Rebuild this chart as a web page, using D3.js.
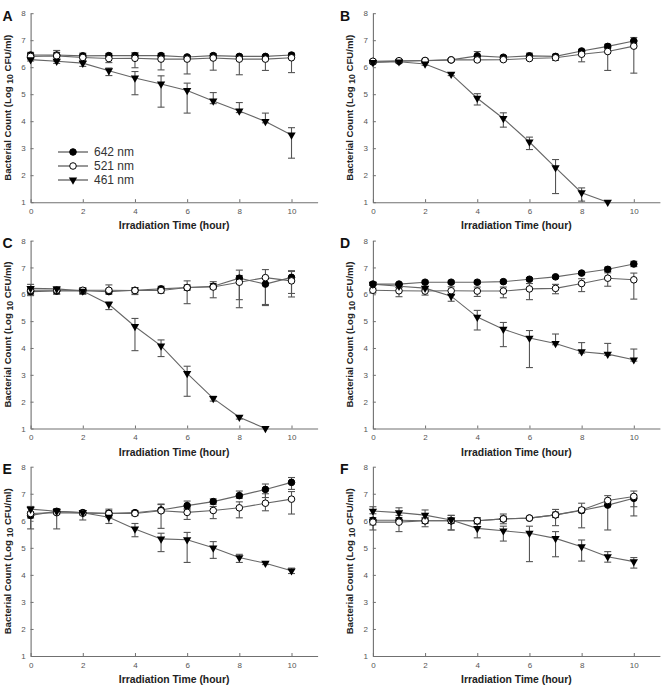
<!DOCTYPE html>
<html lang="en">
<head>
<meta charset="utf-8">
<title>Bacterial count vs irradiation time</title>
<script src="https://d3js.org/d3.v7.min.js"></script>
<style>
  body { margin: 0; background: #fff; }
  svg { display: block; font-family: "Liberation Sans", Arial, sans-serif; }
</style>
</head>
<body>
<script>
// ---- data ----
var hours = [0, 1, 2, 3, 4, 5, 6, 7, 8, 9, 10];
var xTicks = [0, 2, 4, 6, 8, 10];
var yTicks = [1, 2, 3, 4, 5, 6, 7, 8];
var panelLabels = ["A", "B", "C", "D", "E", "F"];
var seriesNames = ["642 nm", "521 nm", "461 nm"];

// each error entry is [up, down]
var A_642 = [6.45, 6.45, 6.42, 6.43, 6.43, 6.43, 6.38, 6.43, 6.40, 6.40, 6.45];
var A_642_err = [[.1,.1],[.1,.1],[.1,.1],[.08,.08],[.1,.1],[.08,.08],[.05,.05],[.07,.07],[.05,.05],[.05,.05],[.07,.07]];
var A_521 = [6.40, 6.42, 6.36, 6.32, 6.33, 6.30, 6.30, 6.34, 6.30, 6.30, 6.35];
var A_521_err = [[.1,.1],[.2,.2],[.12,.15],[.1,.15],[.2,.35],[.1,.4],[.1,.55],[.1,.45],[.1,.58],[.1,.42],[.12,.55]];
var A_461 = [6.28, 6.22, 6.15, 5.87, 5.60, 5.38, 5.14, 4.75, 4.38, 3.99, 3.49];
var A_461_err = [[.05,.05],[.05,.08],[.1,.12],[.1,.18],[.24,.62],[.3,.86],[.27,.84],[.31,.1],[.31,.06],[.31,.05],[.27,.86]];

var B_642 = [6.19, 6.22, 6.24, 6.27, 6.42, 6.37, 6.42, 6.40, 6.60, 6.77, 6.97];
var B_642_err = [[.05,.05],[.05,.05],[.05,.05],[.05,.05],[.16,.1],[.06,.06],[.1,.05],[.08,.08],[.06,.06],[.08,.08],[.13,.1]];
var B_521 = [6.22, 6.24, 6.25, 6.27, 6.27, 6.28, 6.32, 6.35, 6.48, 6.58, 6.78];
var B_521_err = [[.05,.05],[.05,.05],[.05,.05],[.05,.05],[.05,.05],[.05,.05],[.05,.05],[.08,.1],[.1,.28],[.15,.7],[.2,1.0]];
var B_461 = [6.18, 6.20, 6.12, 5.74, 4.85, 4.10, 3.23, 2.28, 1.35, 1.0, null];
var B_461_err = [[.05,.05],[.05,.05],[.05,.05],[.05,.05],[.17,.25],[.21,.32],[.18,.28],[.3,.96],[.18,.31],[0,0],null];

var C_642 = [6.10, 6.12, 6.13, 6.10, 6.15, 6.20, 6.25, 6.30, 6.60, 6.38, 6.63];
var C_642_err = [[.1,.1],[.1,.1],[.1,.1],[.1,.1],[.1,.1],[.1,.1],[.1,.1],[.1,.1],[.3,.8],[.2,.8],[.25,.6]];
var C_521 = [6.15, 6.15, 6.15, 6.15, 6.14, 6.14, 6.25, 6.27, 6.45, 6.62, 6.50];
var C_521_err = [[.1,.2],[.08,.15],[.1,.15],[.2,.1],[.1,.15],[.1,.1],[.25,.6],[.2,.4],[.25,.95],[.3,1.0],[.35,.6]];
var C_461 = [6.22, 6.20, 6.12, 5.63, 4.80, 4.08, 3.05, 2.12, 1.42, 1.0, null];
var C_461_err = [[.15,.1],[.08,.1],[.1,.1],[.08,.2],[.3,.9],[.22,.4],[.27,.85],[.08,.1],[.05,.07],[0,0],null];

var D_642 = [6.38, 6.38, 6.45, 6.45, 6.45, 6.47, 6.56, 6.65, 6.79, 6.93, 7.13];
var D_642_err = [[.05,.05],[.05,.05],[.05,.05],[.05,.05],[.05,.05],[.05,.05],[.06,.06],[.05,.05],[.05,.05],[.08,.08],[.1,.1]];
var D_521 = [6.15, 6.13, 6.12, 6.13, 6.12, 6.12, 6.20, 6.22, 6.40, 6.60, 6.54];
var D_521_err = [[.08,.1],[.12,.22],[.1,.15],[.15,.15],[.15,.2],[.15,.25],[.2,.4],[.15,.2],[.18,.3],[.2,.3],[.25,.72]];
var D_461 = [6.38, 6.30, 6.23, 5.93, 5.15, 4.70, 4.37, 4.17, 3.86, 3.77, 3.56];
var D_461_err = [[.05,.05],[.05,.05],[.05,.05],[.05,.19],[.25,.48],[.25,.65],[.28,1.1],[.35,.05],[.34,.05],[.4,.05],[.4,.05]];

var E_642 = [6.20, 6.35, 6.30, 6.28, 6.30, 6.40, 6.56, 6.71, 6.93, 7.16, 7.42];
var E_642_err = [[.3,.1],[.1,.1],[.08,.08],[.15,.1],[.08,.08],[.2,.1],[.17,.1],[.1,.1],[.17,.1],[.2,.3],[.18,.26]];
var E_521 = [6.27, 6.30, 6.28, 6.27, 6.27, 6.37, 6.31, 6.38, 6.48, 6.65, 6.80];
var E_521_err = [[.25,.57],[.1,.6],[.1,.25],[.1,.15],[.08,.08],[.25,.65],[.1,.26],[.15,.3],[.22,.37],[.35,.28],[.28,.55]];
var E_461 = [6.43, 6.35, 6.30, 6.13, 5.70, 5.33, 5.30, 5.00, 4.64, 4.43, 4.15];
var E_461_err = [[.1,.1],[.1,.1],[.08,.08],[.1,.23],[.2,.29],[.21,.47],[.27,.84],[.23,.39],[.12,.18],[.05,.05],[.1,.1]];

var F_642 = [6.02, 6.02, 6.00, 6.00, 6.00, 6.07, 6.10, 6.22, 6.38, 6.58, 6.83];
var F_642_err = [[.1,.36],[.1,.1],[.1,.1],[.2,.34],[.1,.1],[.1,.1],[.05,.05],[.1,.1],[.1,.64],[.1,.92],[.12,.65]];
var F_521 = [5.95, 5.95, 6.00, 6.00, 6.00, 6.07, 6.10, 6.22, 6.40, 6.75, 6.90];
var F_521_err = [[.1,.1],[.1,.35],[.1,.22],[.1,.1],[.12,.12],[.18,.18],[.05,.05],[.2,.4],[.25,.1],[.18,.15],[.2,.38]];
var F_461 = [6.36, 6.30, 6.21, 6.03, 5.72, 5.63, 5.54, 5.35, 5.04, 4.67, 4.49];
var F_461_err = [[.16,.1],[.18,.1],[.19,.1],[.17,.37],[.22,.35],[.17,.38],[.26,1.05],[.25,.68],[.25,.53],[.19,.2],[.15,.24]];

var panelData = [
  [[A_642, A_642_err], [A_521, A_521_err], [A_461, A_461_err]],
  [[B_642, B_642_err], [B_521, B_521_err], [B_461, B_461_err]],
  [[C_642, C_642_err], [C_521, C_521_err], [C_461, C_461_err]],
  [[D_642, D_642_err], [D_521, D_521_err], [D_461, D_461_err]],
  [[E_642, E_642_err], [E_521, E_521_err], [E_461, E_461_err]],
  [[F_642, F_642_err], [F_521, F_521_err], [F_461, F_461_err]]
];

// ---- layout ----
var W = 666, H = 689;
var colX = [[30.6, 317.6], [372.9, 659.9]];   // pixel range for hours 0..11
var rowY = [[202.2, 13.2], [428.5, 240.6], [656, 466.7]]; // pixel range for log 1..8
var markerTypes = ["filled", "open", "tri"];

var svg = d3.select("body").append("svg")
  .attr("width", W)
  .attr("height", H);

panelData.forEach(function(series, p) {
  var col = p % 2, row = Math.floor(p / 2);
  var x = d3.scaleLinear().domain([0, 11]).range(colX[col]);
  var y = d3.scaleLinear().domain([1, 8]).range(rowY[row]);
  var g = svg.append("g");
  var x0 = x(0), yb = y(1);

  // axes
  var xa = g.append("g")
    .attr("transform", "translate(0," + yb + ")")
    .call(d3.axisBottom(x).tickValues(xTicks).tickFormat(d3.format("d"))
      .tickSizeInner(-3).tickSizeOuter(0).tickPadding(6));
  var ya = g.append("g")
    .attr("transform", "translate(" + x0 + ",0)")
    .call(d3.axisLeft(y).tickValues(yTicks).tickFormat(d3.format("d"))
      .tickSizeInner(-3).tickSizeOuter(0).tickPadding(5));
  [xa, ya].forEach(function(a) {
    a.select(".domain").attr("stroke", "#707070").attr("stroke-width", 1.1);
    a.selectAll(".tick line").attr("stroke", "#707070");
    a.selectAll(".tick text").attr("fill", "#555").style("font-size", "8px")
      .style("font-family", "'Liberation Sans', Arial, sans-serif");
  });

  // axis titles
  g.append("text")
    .attr("x", (colX[col][0] + colX[col][1]) / 2)
    .attr("y", yb + 27)
    .attr("text-anchor", "middle")
    .attr("fill", "#222")
    .style("font-size", "10.4px")
    .style("font-weight", "bold")
    .text("Irradiation Time (hour)");

  var yt = g.append("text")
    .attr("transform", "translate(" + (x0 - 20) + "," + ((rowY[row][0] + rowY[row][1]) / 2) + ") rotate(-90)")
    .attr("text-anchor", "middle")
    .attr("fill", "#222")
    .style("font-size", "9.6px")
    .style("font-weight", "bold");
  yt.append("tspan").text("Bacterial Count (Log ");
  yt.append("tspan").attr("dy", 2.5).style("font-size", "8.6px").text("10");
  yt.append("tspan").attr("dy", -2.5).text(" CFU/ml)");

  // panel letter
  g.append("text")
    .attr("x", col === 0 ? 2.5 : 340)
    .attr("y", rowY[row][1] + 7.6)
    .attr("fill", "#111")
    .style("font-size", "14px")
    .style("font-weight", "bold")
    .text(panelLabels[p]);

  var line = d3.line()
    .defined(function(d) { return d.v != null; })
    .x(function(d) { return x(d.h); })
    .y(function(d) { return y(d.v); });

  var pts = series.map(function(s) {
    return hours.map(function(h, i) { return { h: h, v: s[0][i], e: s[1][i] }; })
      .filter(function(d) { return d.v != null; });
  });

  // connecting lines
  pts.forEach(function(d) {
    g.append("path").datum(d)
      .attr("d", line)
      .attr("fill", "none")
      .attr("stroke", "#666")
      .attr("stroke-width", 1.1);
  });

  // error bars
  pts.forEach(function(d) {
    var eb = g.append("g").attr("stroke", "#555").attr("stroke-width", 1.1);
    d.forEach(function(pt) {
      if (!pt.e || (pt.e[0] === 0 && pt.e[1] === 0)) return;
      var cx = x(pt.h), top = y(pt.v + pt.e[0]), bot = y(pt.v - pt.e[1]);
      eb.append("line").attr("x1", cx).attr("x2", cx).attr("y1", top).attr("y2", bot);
      eb.append("line").attr("x1", cx - 3.5).attr("x2", cx + 3.5).attr("y1", top).attr("y2", top);
      eb.append("line").attr("x1", cx - 3.5).attr("x2", cx + 3.5).attr("y1", bot).attr("y2", bot);
    });
  });

  // markers
  var tri = d3.symbol().type(d3.symbolTriangle).size(30);
  pts.forEach(function(d, si) {
    var type = markerTypes[si];
    d.forEach(function(pt) {
      var cx = x(pt.h), cy = y(pt.v);
      if (type === "tri") {
        g.append("path").attr("d", tri())
          .attr("transform", "translate(" + cx + "," + cy + ") rotate(180)")
          .attr("fill", "#000");
      } else {
        g.append("circle").attr("cx", cx).attr("cy", cy).attr("r", 3.3)
          .attr("fill", type === "filled" ? "#000" : "#fff")
          .attr("stroke", "#000").attr("stroke-width", 1);
      }
    });
  });

  // legend (panel A only)
  if (p === 0) {
    var lg = g.append("g");
    seriesNames.forEach(function(name, si) {
      var ly = 152 + si * 14;
      lg.append("line").attr("x1", 58).attr("x2", 88).attr("y1", ly).attr("y2", ly)
        .attr("stroke", "#444").attr("stroke-width", 1.1);
      if (markerTypes[si] === "tri") {
        lg.append("path").attr("d", tri())
          .attr("transform", "translate(73," + ly + ") rotate(180)").attr("fill", "#000");
      } else {
        lg.append("circle").attr("cx", 73).attr("cy", ly).attr("r", 3.3)
          .attr("fill", markerTypes[si] === "filled" ? "#000" : "#fff")
          .attr("stroke", "#000");
      }
      lg.append("text").attr("x", 94).attr("y", ly + 4.2)
        .attr("fill", "#333")
        .style("font-size", "12px")
        .text(name);
    });
  }
});
</script>
</body>
</html>
